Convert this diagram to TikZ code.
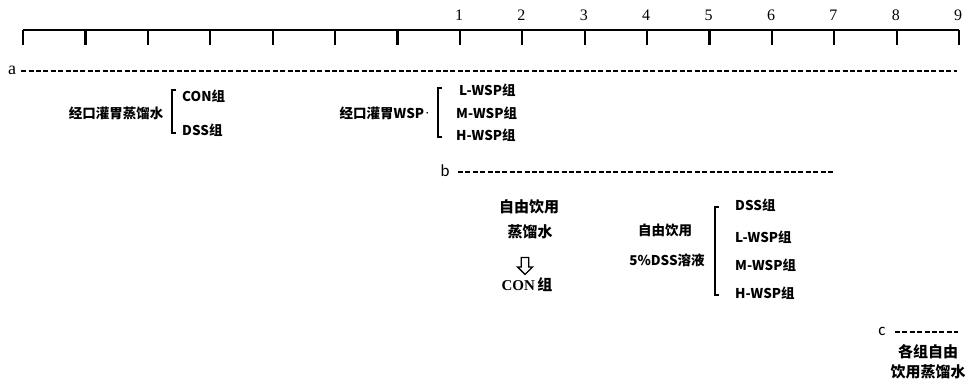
\documentclass[tikz,border=0pt]{standalone}
\usepackage{fontspec}
\setmainfont{Liberation Serif}
\newfontfamily\cjk{Noto Sans CJK SC}
\newfontfamily\lsans{Carlito}
\usetikzlibrary{shapes.arrows}
\begin{document}
\begin{tikzpicture}[x=1pt,y=-1pt,
  dline/.style={line width=2pt, dash pattern=on 5pt off 2.4pt},
  zh/.style={font=\cjk\bfseries\fontsize{13.5}{15}\selectfont, inner sep=0pt},
  zhl/.style={font=\cjk\bfseries\fontsize{15}{17}\selectfont, inner sep=0pt},
  num/.style={font=\fontsize{16}{16}\selectfont, inner sep=0pt},
  lbl/.style={font=\lsans\fontsize{17}{17}\selectfont, inner sep=0pt},
  brk/.style={line width=1.4pt}
]
\useasboundingbox (0,0) rectangle (969,390);
% ruler
\coordinate (r0) at (23,30);
\coordinate (r1) at (959,30);
\draw[line width=2.8pt] (r0) -- (r1);
\foreach \i in {0,...,15}
  \draw[line width=2.2pt] ({23+\i*62.4},30) -- ({23+\i*62.4},45);
\foreach \n in {1,...,9}
  \node[num] (n\n) at ({459+(\n-1)*62.4},15) {\n};
% a
\node[num, font=\fontsize{18}{18}\selectfont] (la) at (12,70.5) {a};
\coordinate (ae) at (957,71.5);
\draw[dline] (la.east) ++(5,1) -- (ae);
% group 1
\node[zh] (g1) at (116,113) {经口灌胃蒸馏水};
\draw[brk] (176,90) -- (172,90) -- (172,133) -- (176,133);
\node[zh, anchor=west] (con1) at (182,96) {CON组};
\node[zh, anchor=west] (dss1) at (182,130) {DSS组};
% group 2
\node[zh] (g2) at (385,113) {经口灌胃WSP\raisebox{3pt}{\fontsize{6}{6}\selectfont ·}};
\draw[brk] (442,88) -- (438,88) -- (438,137) -- (442,137);
\node[zh, anchor=west] (lw1) at (459,90) {L-WSP组};
\node[zh, anchor=west] (mw1) at (456,113) {M-WSP组};
\node[zh, anchor=west] (hw1) at (456,135) {H-WSP组};
% b
\node[lbl] (lb) at (445,171) {b};
\coordinate (be) at (835,172);
\draw[dline] (458,172) -- (be);
\node[zhl] (b1) at (529,207) {自由饮用};
\node[zhl] (b2) at (530,232) {蒸馏水};
\node[single arrow, draw, line width=1.3pt, shape border rotate=270, minimum height=17pt, minimum width=15pt, single arrow head extend=3pt, inner sep=2.5pt] (arr) at (525,264) {};
\node[inner sep=0pt, font=\bfseries\fontsize{15}{17}\selectfont] (conb) at (527,285) {CON\,{\cjk 组}};
\node[zh] (b3) at (665,230) {自由饮用};
\node[zh] (b4) at (667,260) {5\%DSS溶液};
\draw[brk] (719,207) -- (715,207) -- (715,295) -- (719,295);
\node[zh, anchor=west] (dss2) at (735,205) {DSS组};
\node[zh, anchor=west] (lw2) at (735,237) {L-WSP组};
\node[zh, anchor=west] (mw2) at (735,265) {M-WSP组};
\node[zh, anchor=west] (hw2) at (735,293) {H-WSP组};
% c
\node[lbl] (lc) at (882,331) {c};
\coordinate (ce) at (958,332);
\draw[dline] (895,332) -- (ce);
\node[zhl] (c1) at (928,352) {各组自由};
\node[zhl] (c2) at (928,372) {饮用蒸馏水};
\end{tikzpicture}
\end{document}
